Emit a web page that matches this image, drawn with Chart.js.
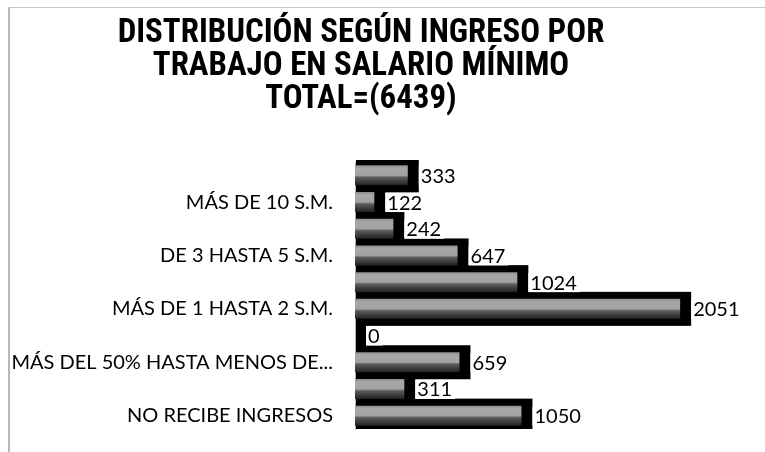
<!DOCTYPE html>
<html>
<head>
<meta charset="utf-8">
<script src="https://cdn.jsdelivr.net/npm/chart.js@4/dist/chart.umd.min.js"></script>
<style>
  html, body { margin:0; padding:0; background:#fff; overflow:hidden; }
  #wrap { position:absolute; left:0; top:0; width:765px; height:452px; }
  #frame { position:absolute; left:8px; top:7px; width:800px; height:500px;
           border-left:2px solid #b8b8b8; border-top:1px solid #c8c8c8; box-sizing:border-box; }
</style>
</head>
<body>
<div id="frame"></div>
<div id="wrap"><canvas id="c"></canvas></div>
<script>
const titleLines = ['DISTRIBUCIÓN SEGÚN INGRESO POR', 'TRABAJO EN SALARIO MÍNIMO', 'TOTAL=(6439)'];
const categories = [
  'NO ESPECIFICADO',
  'MÁS DE 10 S.M.',
  'MÁS DE 5 HASTA 10 S.M.',
  'DE 3 HASTA 5 S.M.',
  'MÁS DE 2 HASTA 3 S.M.',
  'MÁS DE 1 HASTA 2 S.M.',
  '1 S.M.',
  'MÁS DEL 50% HASTA MENOS DE 1 S.M.',
  'HASTA EL 50% DE 1 S.M.',
  'NO RECIBE INGRESOS'
];
const values = [333, 122, 242, 647, 1024, 2051, 0, 659, 311, 1050];

// choose the narrowest installed bold sans for the title, sized to the reference width
const mc = document.createElement('canvas').getContext('2d');
function installed(fam) {
  mc.font = "bold 30px monospace";
  const a = mc.measureText(titleLines[0]).width;
  mc.font = "bold 30px '" + fam + "', monospace";
  return Math.abs(mc.measureText(titleLines[0]).width - a) > 0.5;
}
const candidates = ['Liberation Sans Narrow', 'Arial Narrow', 'Roboto Condensed', 'Roboto', 'Liberation Sans'];
const titleFam = candidates.find(installed) || 'Liberation Sans';
mc.font = "bold 30px '" + titleFam + "'";
const titleSize = Math.round(30 * 487 / mc.measureText(titleLines[0]).width * 10) / 10;

const shadowPlugin = {
  id: 'shadowBars',
  beforeDatasetsDraw(chart) {
    const ctx = chart.ctx, area = chart.chartArea;
    const meta = chart.getDatasetMeta(0);
    ctx.save();
    ctx.beginPath();
    ctx.rect(area.left + 1, area.top - 2, chart.width - area.left, area.bottom - area.top + 2);
    ctx.clip();
    ctx.fillStyle = '#000';
    meta.data.forEach(el => {
      const {x, y, base, height} = el.getProps(['x', 'y', 'base', 'height'], true);
      ctx.fillRect(base + 1, y - height / 2 - 7, (x - base) + 10, height + 14);
      const g = ctx.createLinearGradient(0, y - height / 2, 0, y + height / 2);
      g.addColorStop(0, '#8e8e8e');
      g.addColorStop(0.15, '#a8a8a8');
      g.addColorStop(0.5, '#a2a2a2');
      g.addColorStop(0.6, '#5c5c5c');
      g.addColorStop(1, '#202020');
      el.options.backgroundColor = g;
    });
    ctx.restore();
  },
  afterDatasetsDraw(chart) {
    const ctx = chart.ctx;
    const meta = chart.getDatasetMeta(0);
    ctx.save();
    ctx.font = '20px Lato';
    ctx.textBaseline = 'middle';
    ctx.textAlign = 'left';
    meta.data.forEach((el, i) => {
      const {x, y} = el.getProps(['x', 'y'], true);
      const txt = String(values[i]);
      const w = ctx.measureText(txt).width;
      const bx = x + 11;
      ctx.fillStyle = '#fff';
      ctx.fillRect(bx, y - 9, w + 5, 19);
      ctx.fillStyle = '#000';
      ctx.fillText(txt, bx + 2, y + 1);
    });
    ctx.restore();
  }
};

new Chart(document.getElementById('c'), {
  type: 'bar',
  data: {
    labels: categories,
    datasets: [{
      data: values,
      backgroundColor: () => '#9a9a9a',
      borderWidth: 0,
      categoryPercentage: 1.0,
      barPercentage: 0.75
    }]
  },
  options: {
    indexAxis: 'y',
    responsive: true,
    maintainAspectRatio: false,
    animation: false,
    layout: { padding: { left: 0, right: 43, top: 0, bottom: 23 } },
    plugins: {
      legend: { display: false },
      tooltip: { enabled: false },
      title: {
        display: true,
        text: titleLines,
        color: '#000',
        font: { family: "'" + titleFam + "', 'Liberation Sans', sans-serif", size: titleSize, weight: 'bold', lineHeight: '33px' },
        padding: { top: 17, bottom: 46 }
      }
    },
    scales: {
      x: { display: false, min: 0, max: 2315 },
      y: {
        grid: { display: false, drawTicks: false },
        border: { display: true, color: '#b3b3b3', width: 1 },
        afterFit(scale) { scale.width = 355; scale.paddingTop = 0; scale.paddingBottom = 0; },
        ticks: {
          autoSkip: false,
          padding: 22,
          color: '#000',
          font: { family: 'Lato, sans-serif', size: 20 },
          callback(value, index) {
            if (index % 2 === 0) return '';
            const lbl = categories[index];
            return lbl.length > 28 ? lbl.slice(0, 26) + '...' : lbl;
          }
        }
      }
    }
  },
  plugins: [shadowPlugin]
});
</script>
</body>
</html>
